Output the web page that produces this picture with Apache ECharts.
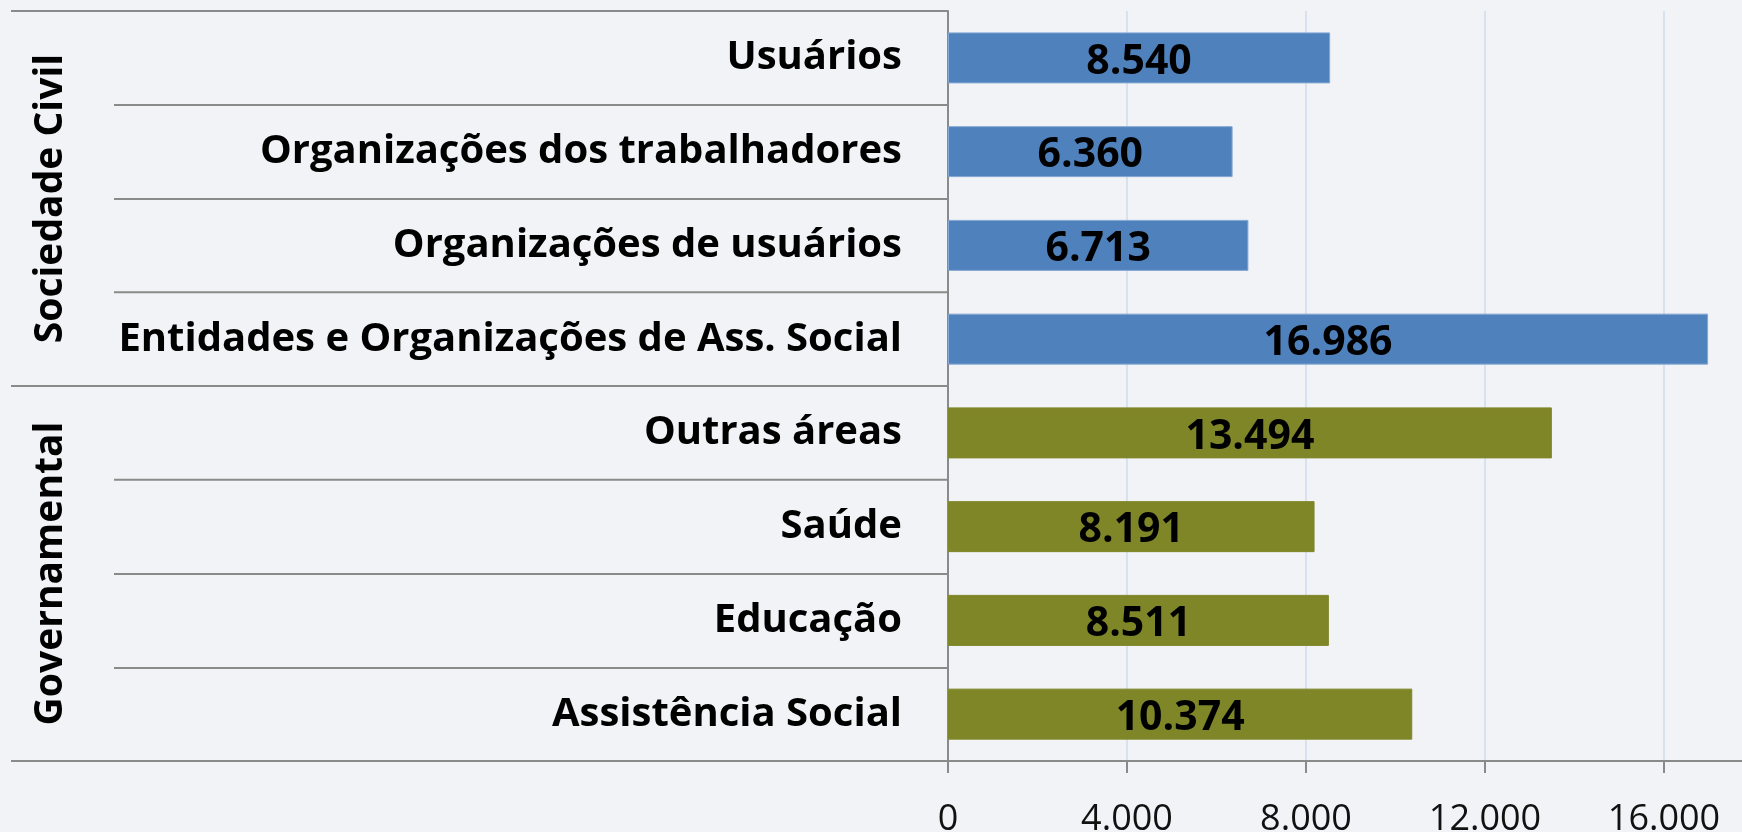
<!DOCTYPE html>
<html>
<head>
<meta charset="utf-8">
<script src="https://cdn.jsdelivr.net/npm/echarts@6/dist/echarts.min.js"></script>
<style>
    html, body { margin: 0; padding: 0; background: #f2f3f6; }
    #main { width: 1742px; height: 832px; }
</style>
</head>
<body>
<div id="main"></div>
<script>
// categorias de baixo para cima (eixo de categorias do ECharts começa embaixo)
const categories = [
    'Assistência Social',
    'Educação',
    'Saúde',
    'Outras áreas',
    'Entidades e Organizações de Ass. Social',
    'Organizações de usuários',
    'Organizações dos trabalhadores',
    'Usuários'
];
const values = [10374, 8511, 8191, 13494, 16986, 6713, 6360, 8540];
const groups = ['Governamental', 'Sociedade Civil'];
const groupOf = [0, 0, 0, 0, 1, 1, 1, 1];
const groupColors = ['#7f8628', '#4f81bd'];
const xMin = 0;
const xMax = 20000;
const xStep = 4000;

function fmt(v) {
    return String(v).replace(/\B(?=(\d{3})+(?!\d))/g, '.');
}

const chart = echarts.init(document.getElementById('main'));
const lineGray = '#8a8a8a';

const option = {
    backgroundColor: '#f2f3f6',
    animation: false,
    grid: {
        left: 948,
        top: 11,
        bottom: 71,
        right: -101,
        containLabel: false,
        outerBoundsMode: 'none'
    },
    xAxis: {
        type: 'value',
        min: xMin,
        max: xMax,
        interval: xStep,
        axisLine: { show: true, lineStyle: { color: lineGray, width: 2 } },
        axisTick: { show: true, length: 12, lineStyle: { color: lineGray, width: 2 } },
        splitLine: { show: true, lineStyle: { color: '#d8e1ee', width: 2 } },
        axisLabel: {
            formatter: fmt,
            fontFamily: 'Open Sans',
            fontSize: 36,
            color: '#111',
            margin: 41
        }
    },
    yAxis: [{
        type: 'category',
        position: 'left',
        data: categories,
        axisLine: { show: true, lineStyle: { color: lineGray, width: 2 } },
        axisTick: { show: true, length: 834, lineStyle: { color: lineGray, width: 2 } },
        splitLine: { show: false },
        axisLabel: {
            interval: 0,
            fontFamily: 'Open Sans',
            fontWeight: 'bold',
            fontSize: 40,
            color: '#000',
            margin: 46
        }
    }, {
        type: 'category',
        position: 'left',
        data: groups,
        axisLine: { show: false },
        axisTick: { show: true, length: 937, lineStyle: { color: lineGray, width: 2 } },
        splitLine: { show: false },
        axisLabel: {
            interval: 0,
            rotate: 90,
            hideOverlap: false,
            fontFamily: 'Open Sans',
            fontWeight: 'bold',
            fontSize: 39,
            color: '#000',
            margin: 878
        }
    }],
    series: [{
        type: 'bar',
        yAxisIndex: 0,
        barWidth: 51,
        data: values.map(function (v, i) {
            return {
                value: v,
                itemStyle: {
                    color: groupColors[groupOf[i]],
                    borderColor: groupOf[i] === 1 ? '#86a8d4' : groupColors[groupOf[i]],
                    borderWidth: 1
                }
            };
        }),
        label: {
            show: true,
            position: 'inside',
            offset: [0, 4],
            formatter: function (p) { return fmt(p.value); },
            fontFamily: 'Open Sans',
            fontWeight: 'bold',
            fontSize: 41,
            color: '#000'
        }
    }]
};
chart.setOption(option);
</script>
</body>
</html>
